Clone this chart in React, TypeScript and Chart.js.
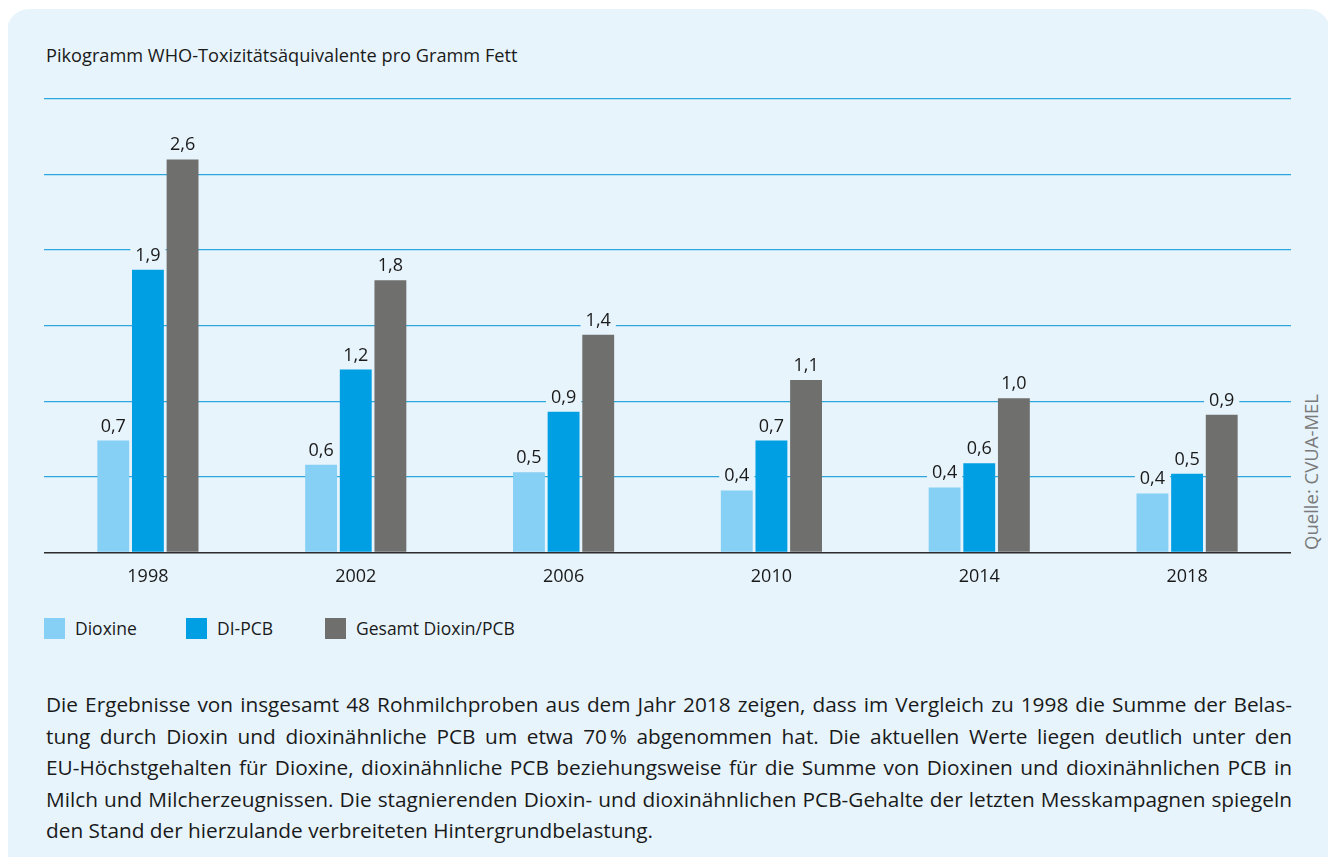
import React, { useEffect, useRef } from "react";
import { Chart, registerables } from "chart.js";

Chart.register(...registerables);

const categories = ["1998", "2002", "2006", "2010", "2014", "2018"];
const dioxine = [0.74, 0.58, 0.53, 0.41, 0.43, 0.39];
const diPcb = [1.87, 1.21, 0.93, 0.74, 0.59, 0.52];
const gesamt = [2.6, 1.8, 1.44, 1.14, 1.02, 0.91];
const seriesNames = ["Dioxine", "DI-PCB", "Gesamt Dioxin/PCB"];
const seriesColors = ["#86cff5", "#009fe3", "#6f6f6e"];
const yTicks = [0, 0.5, 1, 1.5, 2, 2.5, 3];

const PANEL = "#e7f4fc";
const FONT = "'Open Sans', Roboto, sans-serif";

const paragraphLines = [
  "Die Ergebnisse von insgesamt 48 Rohmilchproben aus dem Jahr 2018 zeigen, dass im Vergleich zu 1998 die Summe der Belas-",
  "tung durch Dioxin und dioxinähnliche PCB um etwa 70\u202f% abgenommen hat. Die aktuellen Werte liegen deutlich unter den",
  "EU-Höchstgehalten für Dioxine, dioxinähnliche PCB beziehungsweise für die Summe von Dioxinen und dioxinähnlichen PCB in",
  "Milch und Milcherzeugnissen. Die stagnierenden Dioxin- und dioxinähnlichen PCB-Gehalte der letzten Messkampagnen spiegeln",
  "den Stand der hierzulande verbreiteten Hintergrundbelastung.",
];

const labelPlugin = {
  id: "valueLabels",
  afterDatasetsDraw(chart: any) {
    const ctx = chart.ctx;
    ctx.save();
    ctx.font = `18px ${FONT}`;
    ctx.textAlign = "center";
    ctx.textBaseline = "alphabetic";
    chart.data.datasets.forEach((ds: any, di: number) => {
      const meta = chart.getDatasetMeta(di);
      meta.data.forEach((el: any, i: number) => {
        const v = ds.data[i] as number;
        const text = v.toFixed(1).replace(".", ",");
        const w = ctx.measureText(text).width;
        const base = el.y - 9;
        ctx.fillStyle = PANEL;
        ctx.fillRect(el.x - w / 2 - 5, base - 17, w + 10, 22);
        ctx.fillStyle = "#1a1a1a";
        ctx.fillText(text, el.x, base);
      });
    });
    ctx.restore();
  },
};

function BarChart() {
  const ref = useRef<HTMLCanvasElement | null>(null);
  useEffect(() => {
    if (!ref.current) return;
    const data = [dioxine, diPcb, gesamt];
    const chart = new Chart(ref.current, {
      type: "bar",
      data: {
        labels: categories,
        datasets: data.map((d, i) => ({
          label: seriesNames[i],
          data: d,
          backgroundColor: seriesColors[i],
          barPercentage: 0.92,
          categoryPercentage: 0.5,
        })),
      },
      options: {
        responsive: false,
        animation: false,
        layout: { padding: { top: 10, left: 0, right: 0, bottom: 0 } },
        plugins: { legend: { display: false }, tooltip: { enabled: false } },
        scales: {
          x: {
            grid: { display: false, drawTicks: false },
            border: { display: true, color: "#2b2b2b", width: 1.5 },
            ticks: { color: "#1a1a1a", font: { family: FONT, size: 18 }, padding: 14 },
          },
          y: {
            display: true,
            min: 0,
            max: 3,
            afterBuildTicks: (axis: any) => {
              axis.ticks = yTicks.map((v) => ({ value: v }));
            },
            grid: {
              drawTicks: false,
              color: (c: any) => (c.tick && c.tick.value === 0 ? "rgba(0,0,0,0)" : "#2ea6dd"),
              lineWidth: 1.3,
            },
            border: { display: false },
            ticks: { display: false },
          },
        },
      },
      plugins: [labelPlugin],
    });
    return () => chart.destroy();
  }, []);
  return (
    <canvas
      ref={ref}
      width={1247}
      height={513}
      style={{ position: "absolute", left: 44, top: 89, width: 1247, height: 513 }}
    />
  );
}

export default function App() {
  return (
    <div style={{ position: "relative", width: 1336, height: 865, margin: -8, overflow: "hidden", background: "#fff", fontFamily: FONT }}>
      <div style={{ position: "absolute", left: 7, top: 9, width: 1323, height: 900, borderRadius: 22, background: PANEL }} />
      <div style={{ position: "absolute", left: 46, top: 43, fontSize: 18.2, color: "#1a1a1a", whiteSpace: "nowrap" }}>
        Pikogramm WHO-Toxizitätsäquivalente pro Gramm Fett
      </div>
      <BarChart />
      <div
        style={{
          position: "absolute",
          left: 1310,
          top: 472,
          transform: "translate(-50%, -50%) rotate(-90deg)",
          whiteSpace: "nowrap",
          fontSize: 18.5,
          color: "#7a7a7a",
        }}
      >
        Quelle: CVUA-MEL
      </div>
      {seriesNames.map((n, i) => {
        const lefts = [44, 186, 325];
        return (
          <div key={n} style={{ position: "absolute", left: lefts[i], top: 616, display: "flex", alignItems: "center", whiteSpace: "nowrap" }}>
            <span style={{ display: "inline-block", width: 21, height: 21, background: seriesColors[i], marginRight: 10 }} />
            <span style={{ fontSize: 17.5, color: "#1a1a1a" }}>{n}</span>
          </div>
        );
      })}
      <div style={{ position: "absolute", left: 46, top: 689, width: 1246, fontSize: 20.8, lineHeight: "31.5px", color: "#1a1a1a" }}>
        {paragraphLines.map((l, i) => (
          <div
            key={i}
            style={{
              whiteSpace: i === paragraphLines.length - 1 ? "nowrap" : "normal",
              textAlign: "justify",
              textAlignLast: i === paragraphLines.length - 1 ? "left" : "justify",
              height: 31.5,
              overflow: "visible",
            }}
          >
            {l}
          </div>
        ))}
      </div>
    </div>
  );
}
